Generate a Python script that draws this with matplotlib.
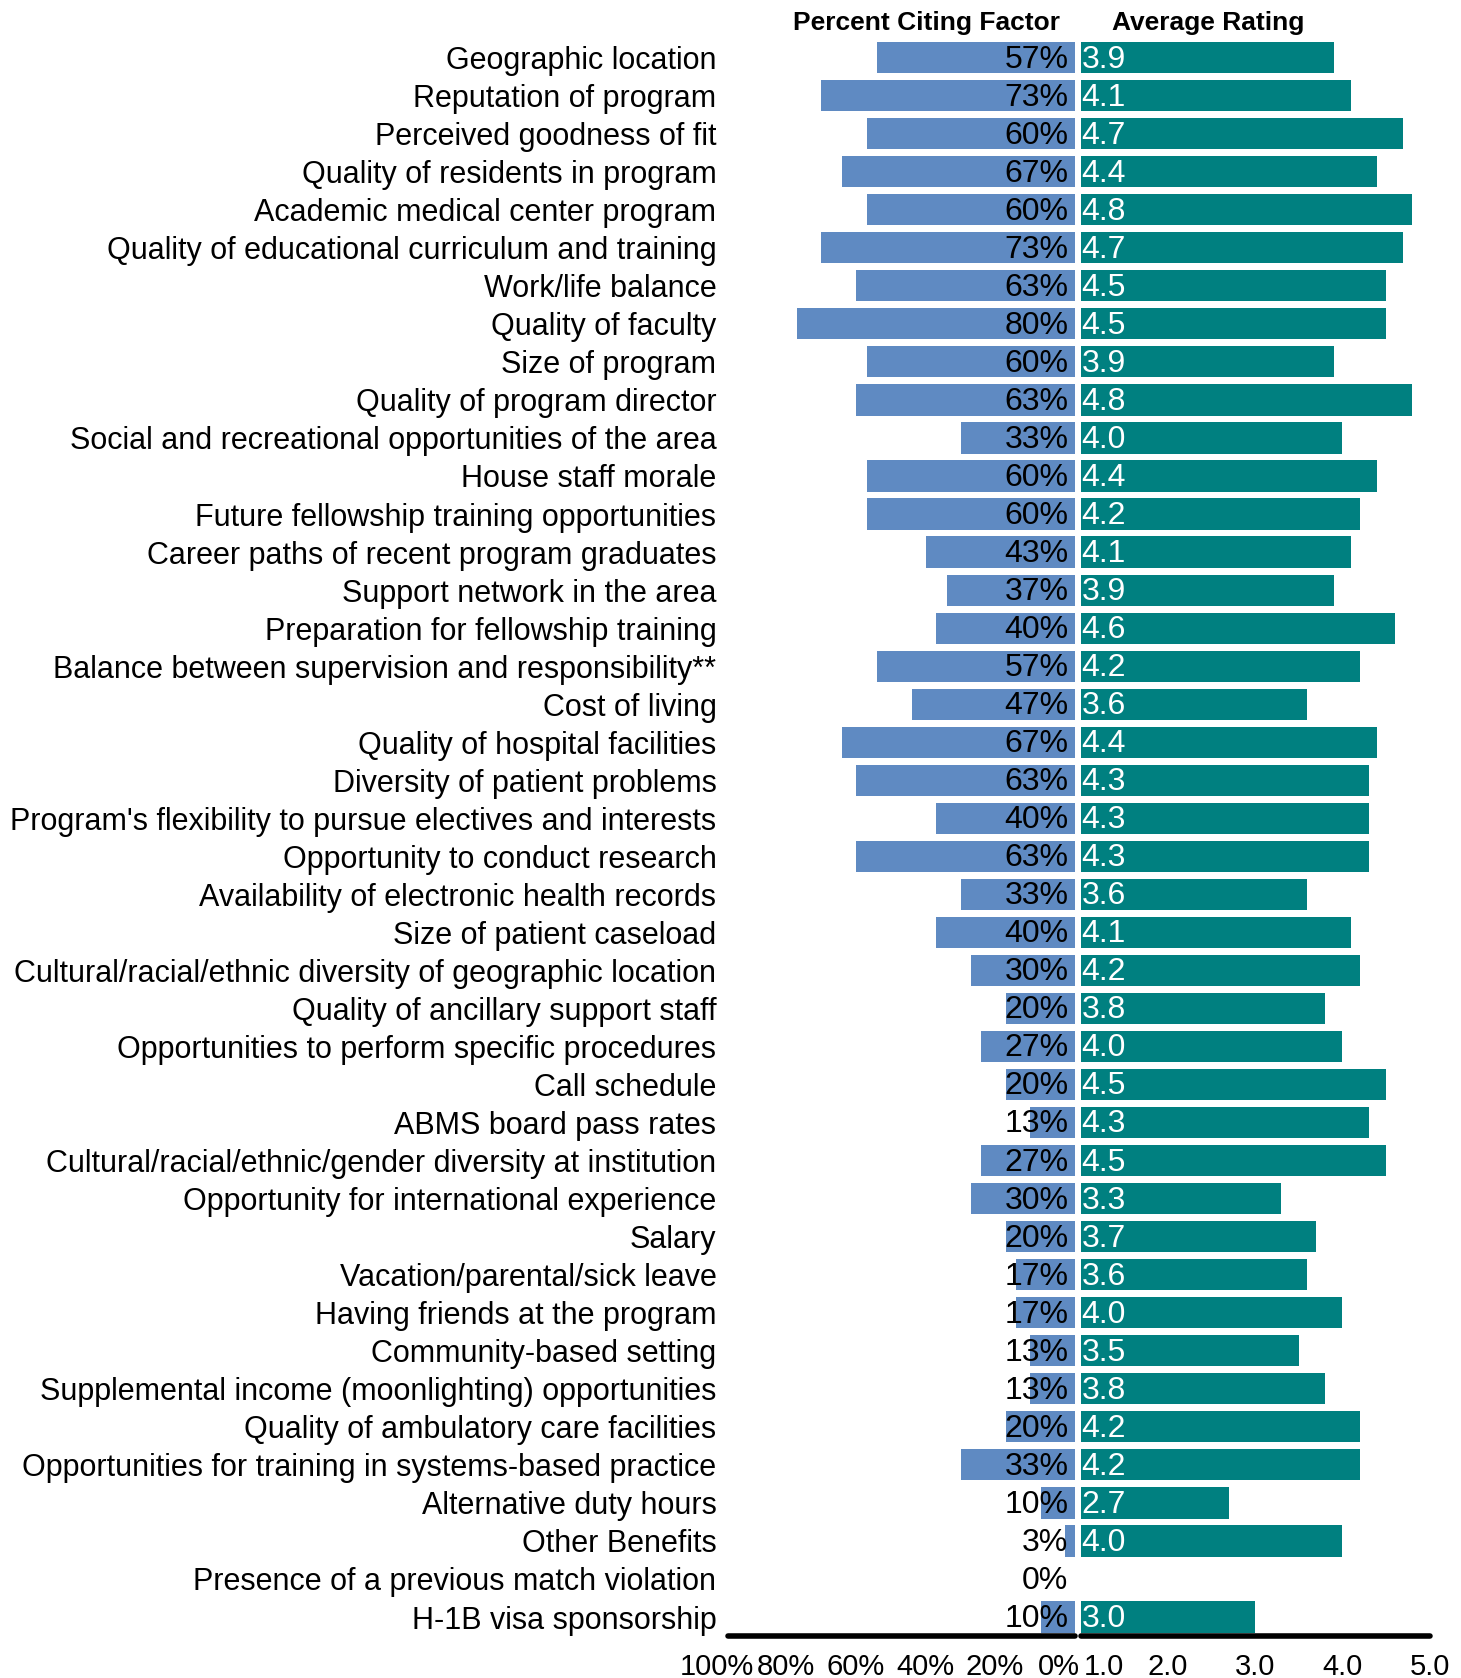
import matplotlib
matplotlib.use("Agg")
import matplotlib.pyplot as plt
from matplotlib import font_manager
import numpy as np

factors = [
    "Geographic location", "Reputation of program", "Perceived goodness of fit",
    "Quality of residents in program", "Academic medical center program",
    "Quality of educational curriculum and training", "Work/life balance",
    "Quality of faculty", "Size of program", "Quality of program director",
    "Social and recreational opportunities of the area", "House staff morale",
    "Future fellowship training opportunities", "Career paths of recent program graduates",
    "Support network in the area", "Preparation for fellowship training",
    "Balance between supervision and responsibility**", "Cost of living",
    "Quality of hospital facilities", "Diversity of patient problems",
    "Program's flexibility to pursue electives and interests",
    "Opportunity to conduct research", "Availability of electronic health records",
    "Size of patient caseload", "Cultural/racial/ethnic diversity of geographic location",
    "Quality of ancillary support staff", "Opportunities to perform specific procedures",
    "Call schedule", "ABMS board pass rates",
    "Cultural/racial/ethnic/gender diversity at institution",
    "Opportunity for international experience", "Salary",
    "Vacation/parental/sick leave", "Having friends at the program",
    "Community-based setting", "Supplemental income (moonlighting) opportunities",
    "Quality of ambulatory care facilities",
    "Opportunities for training in systems-based practice", "Alternative duty hours",
    "Other Benefits", "Presence of a previous match violation", "H-1B visa sponsorship",
]
pct_citing = [57, 73, 60, 67, 60, 73, 63, 80, 60, 63, 33, 60, 60, 43, 37, 40, 57, 47,
              67, 63, 40, 63, 33, 40, 30, 20, 27, 20, 13, 27, 30, 20, 17, 17, 13, 13,
              20, 33, 10, 3, 0, 10]
avg_rating = [3.9, 4.1, 4.7, 4.4, 4.8, 4.7, 4.5, 4.5, 3.9, 4.8, 4.0, 4.4, 4.2, 4.1,
              3.9, 4.6, 4.2, 3.6, 4.4, 4.3, 4.3, 4.3, 3.6, 4.1, 4.2, 3.8, 4.0, 4.5,
              4.3, 4.5, 3.3, 3.7, 3.6, 4.0, 3.5, 3.8, 4.2, 4.2, 2.7, 4.0, None, 3.0]
pct_ticks = [100, 80, 60, 40, 20, 0]
rating_ticks = [1.0, 2.0, 3.0, 4.0, 5.0]

installed = {f.name for f in font_manager.fontManager.ttflist}
narrow = "Liberation Sans Narrow" if "Liberation Sans Narrow" in installed else "Liberation Sans"
plt.rcParams["font.family"] = ["Liberation Sans", "DejaVu Sans"]

blue = "#5F8AC2"
teal = "#008080"

fig = plt.figure(figsize=(14.61, 16.78), dpi=100)
ax1 = fig.add_axes([0.498, 0.025, 0.238, 0.952])
ax2 = fig.add_axes([0.7397, 0.025, 0.2388, 0.952])

y = np.arange(len(factors))

# left panel: percent citing
ax1.barh(y, pct_citing, height=0.82, color=blue)
ax1.set_xlim(100, 0)
ax1.set_ylim(len(factors) - 0.5, -0.5)
ax1.set_yticks(y)
ax1.set_yticklabels(factors, fontsize=22)
ax1.tick_params(axis="y", length=0, pad=8)
for yi, p in zip(y, pct_citing):
    ax1.text(2.0, yi + 0.05, f"{p}%", ha="right", va="center", fontsize=23, color="black")

# right panel: average rating
r_vals = [r if r is not None else np.nan for r in avg_rating]
ax2.barh(y, [v - 1.0 if not np.isnan(v) else 0 for v in r_vals], left=1.0,
         height=0.82, color=teal)
ax2.set_xlim(1.0, 5.0)
ax2.set_ylim(len(factors) - 0.5, -0.5)
ax2.set_yticks([])
for yi, r in zip(y, avg_rating):
    if r is None:
        continue
    ax2.text(1.01, yi + 0.05, f"{r:.1f}", ha="left", va="center", fontsize=23, color="white")

# x tick labels drawn by hand so they can be nudged like the original
ax1.set_xticks(pct_ticks)
ax1.set_xticklabels([])
for i, t in enumerate(pct_ticks):
    last = i == len(pct_ticks) - 1
    ax1.annotate(f"{t}%", xy=(t, 0), xycoords=("data", "axes fraction"),
                 xytext=(3 if last else -8, -12), textcoords="offset points",
                 ha="right" if last else "center", va="top", fontsize=21, family=narrow)
ax2.set_xticks(rating_ticks)
ax2.set_xticklabels([])
for i, t in enumerate(rating_ticks):
    ax2.annotate(f"{t:.1f}", xy=(t, 0), xycoords=("data", "axes fraction"),
                 xytext=(2 if i == 0 else 0, -12), textcoords="offset points",
                 ha="left" if i == 0 else "center", va="top", fontsize=21, family=narrow)

for ax in (ax1, ax2):
    for s in ("top", "right", "left"):
        ax.spines[s].set_visible(False)
    ax.spines["bottom"].set_linewidth(4)
    ax.spines["bottom"].set_capstyle("round")
    ax.tick_params(axis="x", length=0)

fig.text(0.634, 0.986, "Percent Citing Factor", ha="center", va="center",
         fontsize=19, fontweight="bold", family=narrow)
fig.text(0.827, 0.986, "Average Rating", ha="center", va="center",
         fontsize=19, fontweight="bold", family=narrow)

fig.savefig("out.png", dpi=100)
